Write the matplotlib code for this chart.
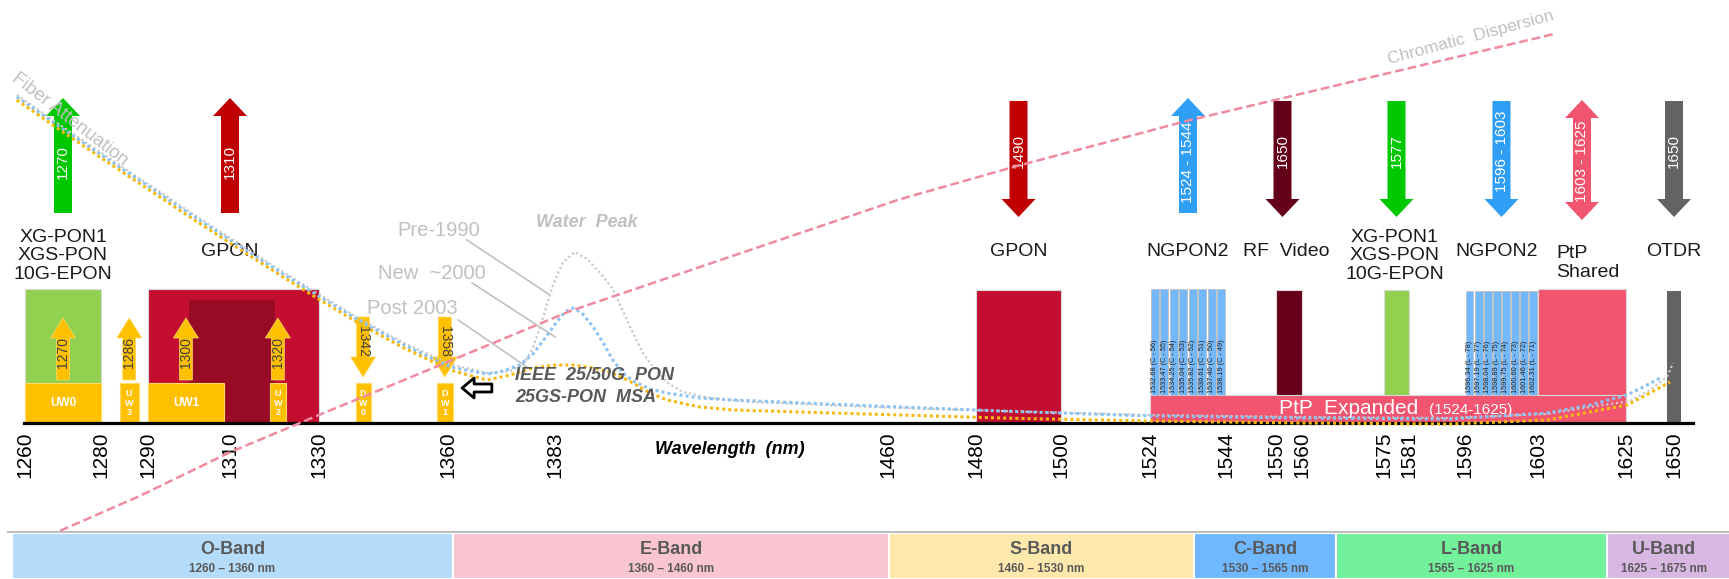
import numpy as np
import matplotlib
matplotlib.use("Agg")
import matplotlib.pyplot as plt
from matplotlib.patches import Rectangle

plt.rcParams['font.family'] = ['Liberation Sans', 'DejaVu Sans']
NARROW = ['Liberation Sans Narrow', 'Liberation Sans', 'DejaVu Sans']

# ---------------- data ----------------
tick_wl = [1260, 1280, 1290, 1310, 1330, 1360, 1383, 1460, 1480, 1500,
           1524, 1544, 1550, 1560, 1575, 1581, 1596, 1603, 1625, 1650]

# service blocks (nm)
xgpon_up = (1260, 1280)
gpon_up = (1290, 1330)
gpon_up_narrow = (1300, 1320)
gpon_down = (1480, 1500)
rf_video = (1550, 1560)
xgpon_down = (1575, 1581)
ptp_shared = (1603, 1625)
ptp_expanded = (1524, 1625)
otdr = (1646.5, 1653.5)
ngpon2_c_band = (1524, 1544)
ngpon2_l_band = (1596, 1603)

# 25GS-PON MSA / IEEE 25/50G wavelength windows
win_names = ['UW0', 'UW3', 'UW1', 'UW2', 'DW0', 'DW1']
win_start = [1260, 1284, 1290, 1319, 1338.5, 1357.5]
win_end = [1280, 1288, 1308.5, 1322.5, 1342, 1361]
win_label = ['1270', '1286', '1300', '1320', '1342', '1358']
win_up = [True, True, True, True, False, False]

ngpon2_c = ['1532.68 (C - 56)', '1533.47 (C - 55)', '1534.25 (C - 54)', '1535.04 (C - 53)',
            '1535.82 (C - 52)', '1536.61 (C - 51)', '1537.40 (C - 50)', '1538.19 (C - 49)']
ngpon2_l = ['1596.34 (L - 78)', '1597.19 (L - 77)', '1598.04 (L - 76)', '1598.89 (L - 75)',
            '1599.75 (L - 74)', '1600.60 (L - 73)', '1601.46 (L - 72)', '1602.31 (L - 71)']

# big direction arrows
arrow_wl = [1270, 1310, 1490, 1534, 1552.5, 1578, 1599.5, 1614, 1650]
arrow_txt = ['1270', '1310', '1490', '1524 - 1544', '1650', '1577', '1596 - 1603', '1603 - 1625', '1650']
arrow_dir = ['up', 'up', 'down', 'up', 'down', 'down', 'down', 'both', 'down']
arrow_col = ['#00C800', '#C00000', '#C00000', '#2F9EF5', '#640019', '#00C800', '#2F9EF5', '#F0546E', '#636363']

# service names
svc_wl = [1270, 1310, 1490, 1534, 1554, 1577.5, 1599, 1607.5, 1650]
svc_txt = ['XG-PON1\nXGS-PON\n10G-EPON', 'GPON', 'GPON', 'NGPON2', 'RF  Video',
           'XG-PON1\nXGS-PON\n10G-EPON', 'NGPON2', 'PtP\nShared', 'OTDR']

# ITU bands
band_names = ['O-Band', 'E-Band', 'S-Band', 'C-Band', 'L-Band', 'U-Band']
band_lo = [1260, 1360, 1460, 1530, 1565, 1625]
band_hi = [1360, 1460, 1530, 1565, 1625, 1675]
band_col = ['#B5DDFB', '#F9C5D0', '#FEE8AC', '#6FB7FE', '#72F09A', '#D8B8E3']

# fiber attenuation (relative units) vs wavelength
att_wl_post = [1261.1, 1271.0, 1280.1, 1291.1, 1300.7, 1310.6, 1321.3, 1330.5, 1339.6, 1349.7,
               1360.2, 1368.7, 1374.0, 1379.2, 1384.3, 1388.4, 1393.0, 1397.5, 1402.1, 1406.0,
               1409.9, 1417.4, 1425.0, 1463.2, 1486.1, 1520.4, 1554.7, 1589.1, 1611.3, 1621.1,
               1629.6, 1634.8, 1639.4]
att_post = [3.23, 2.93, 2.66, 2.34, 2.06, 1.78, 1.48, 1.23, 0.99, 0.75,
            0.53, 0.43, 0.48, 0.55, 0.58, 0.58, 0.55, 0.50, 0.40, 0.30,
            0.23, 0.16, 0.13, 0.08, 0.05, 0.02, 0.00, -0.01, 0.03, 0.11,
            0.18, 0.30, 0.41]
att_wl_new = [1261.1, 1271.0, 1280.1, 1291.1, 1300.7, 1310.6, 1321.3, 1330.5, 1339.6, 1349.7,
              1360.2, 1368.7, 1371.7, 1376.2, 1379.2, 1382.0, 1384.3, 1386.5, 1388.4, 1390.4,
              1393.0, 1395.3, 1397.5, 1399.8, 1402.1, 1406.0, 1409.9, 1417.4, 1425.0, 1463.2,
              1486.1, 1520.4, 1554.7, 1589.1, 1611.3, 1621.1, 1629.6, 1633.3, 1637.6]
att_new = [3.26, 2.96, 2.69, 2.37, 2.09, 1.81, 1.51, 1.26, 1.02, 0.78,
           0.56, 0.49, 0.51, 0.58, 0.69, 0.85, 0.99, 1.11, 1.15, 1.10,
           0.96, 0.80, 0.63, 0.50, 0.42, 0.34, 0.30, 0.25, 0.23, 0.16,
           0.12, 0.07, 0.05, 0.04, 0.10, 0.18, 0.28, 0.36, 0.46]
att_wl_pre = [1261.1, 1271.0, 1280.1, 1291.1, 1300.7, 1310.6, 1321.3, 1330.5, 1339.6, 1349.7,
              1360.2, 1368.7, 1374.0, 1376.9, 1379.2, 1381.5, 1383.8, 1386.1, 1388.8, 1391.6,
              1394.6, 1397.5, 1399.8, 1402.1, 1404.4, 1406.7, 1410.1, 1413.5, 1419.7, 1428.9,
              1463.2, 1486.1, 1520.4, 1554.7, 1589.1, 1611.3, 1621.1, 1630.3, 1634.8, 1638.7,
              1640.1]
att_pre = [3.28, 2.98, 2.71, 2.39, 2.11, 1.83, 1.53, 1.28, 1.04, 0.80,
           0.59, 0.50, 0.52, 0.58, 0.75, 1.05, 1.38, 1.61, 1.71, 1.64,
           1.50, 1.34, 1.12, 0.90, 0.70, 0.56, 0.40, 0.31, 0.25, 0.21,
           0.15, 0.12, 0.08, 0.06, 0.05, 0.09, 0.16, 0.22, 0.33, 0.46,
           0.60]

# chromatic dispersion (ps/nm/km)
disp_wl = [1271, 1289, 1310, 1331, 1349, 1388, 1463, 1489, 1529, 1568, 1613]
disp = [-3.9, -2.2, 0.0, 1.9, 3.5, 7.0, 12.5, 14.1, 16.4, 18.4, 20.7]

# ---------------- layout ----------------
W, H = 1729, 579
BASE = 423                      # baseline, px from top
tick_px = [25, 101, 148, 230, 319, 448, 555, 888, 976, 1061,
           1150, 1226, 1276, 1302, 1384, 1409, 1465, 1538, 1626, 1674]
band_px = [12, 453, 889, 1194, 1336, 1607, 1827]


def piecewise(wl_pts, px_pts):
    wl_pts = np.asarray(wl_pts, float)
    px_pts = np.asarray(px_pts, float)
    # extend both ends linearly
    s0 = (px_pts[1] - px_pts[0]) / (wl_pts[1] - wl_pts[0])
    s1 = (px_pts[-1] - px_pts[-2]) / (wl_pts[-1] - wl_pts[-2])
    wl_e = np.concatenate([[wl_pts[0] - 500], wl_pts, [wl_pts[-1] + 500]])
    px_e = np.concatenate([[px_pts[0] - 500 * s0], px_pts, [px_pts[-1] + 500 * s1]])
    fwd = lambda v: np.interp(v, wl_e, px_e)
    inv = lambda p: np.interp(p, px_e, wl_e)
    return fwd, inv


fig = plt.figure(figsize=(W / 100, H / 100), dpi=100)

# ---- main channel-plan axes (nonlinear wavelength axis) ----
fwd, inv = piecewise(tick_wl, tick_px)
ax = fig.add_axes([0, (H - BASE) / H, 1, BASE / H])
ax.set_xscale('function', functions=(fwd, inv))
ax.set_xlim(inv(0), inv(W))
ax.set_ylim(0, BASE)
ax.set_facecolor('none')
for s in ['top', 'left', 'right']:
    ax.spines[s].set_visible(False)
ax.spines['bottom'].set_linewidth(2.3)
ax.spines['bottom'].set_bounds(inv(24), inv(1693))
ax.set_yticks([])
ax.set_xticks(tick_wl)
ax.set_xticklabels([str(t) for t in tick_wl], rotation=90, fontsize=15)
ax.tick_params(axis='x', length=0, pad=6)
ax.xaxis.set_minor_locator(matplotlib.ticker.NullLocator())


def box(lo, hi, y0, y1, color, ec='#D9D9D9', lw=0.8, z=1):
    ax.add_patch(Rectangle((lo, y0), hi - lo, y1 - y0, fc=color, ec=ec, lw=lw, zorder=z))


def block_arrow(x, y_from, y_to, color, tail=18, head_w=34, head_l=18, ec='none', lw=0, z=3):
    ax.annotate('', xy=(x, y_to), xytext=(x, y_from), zorder=z, annotation_clip=False,
                arrowprops=dict(arrowstyle=f'simple,head_length={head_l},head_width={head_w},tail_width={tail}',
                                fc=color, ec=ec, lw=lw, shrinkA=0, shrinkB=0, mutation_scale=0.72))


box(*xgpon_up, 0, 134, '#92D050')
box(*gpon_up, 0, 134, '#C40E31')
box(*gpon_up_narrow, 0, 123, '#970C24', ec='none')
box(*gpon_down, 0, 133, '#C40E31')
box(*ptp_expanded, 1, 28, '#F35470')
box(*ptp_shared, 28, 134, '#F35470')
box(*rf_video, 28, 133, '#66001A')
box(*xgpon_down, 28, 133, '#92D050')
box(*otdr, 0, 132, '#636363', ec='none')

# NGPON2 channel bars
for (lo, hi), names, top in [(ngpon2_c_band, ngpon2_c, 134), (ngpon2_l_band, ngpon2_l, 132)]:
    edges = np.linspace(lo, hi, len(names) + 1)
    slot = edges[1] - edges[0]
    for e, nm in zip(edges[:-1], names):
        box(e + 0.06 * slot, e + 0.92 * slot, 28, top, '#74B8FC', ec='#BFBFBF', lw=0.6)
        ax.text(e + 0.49 * slot, 30, nm, rotation=90, ha='center', va='bottom',
                fontsize=5.3, color='#222222', family=NARROW)

ax.text(1568.5, 14, 'PtP  Expanded', ha='center', va='center', color='white', fontsize=15, zorder=4)
ax.text(1596.5, 13, '(1524-1625)', ha='center', va='center', color='white', fontsize=11,
        family=NARROW, zorder=4)

# 25G / 50G windows and small arrows
for name, lo, hi, lab, up in zip(win_names, win_start, win_end, win_label, win_up):
    box(lo, hi, 0, 40, '#FFC000', ec='#FFD966', lw=0.8, z=2)
    c = (lo + hi) / 2
    if hi - lo > 8:
        ax.text(c, 20, name, ha='center', va='center', color='white', fontsize=8.5,
                fontweight='bold', zorder=4)
    else:
        ax.text(c, 20, '\n'.join(name), ha='center', va='center', color='white', fontsize=6.5,
                fontweight='bold', linespacing=1.05, zorder=4)
    if up:
        block_arrow(c, 43, 105, '#FFC000', tail=13, head_w=25, head_l=20, ec='#FFD966', lw=0.5)
        ax.text(c, 70, lab, rotation=90, ha='center', va='center', fontsize=10, color='#404040', zorder=4)
    else:
        block_arrow(c, 106, 46, '#FFC000', tail=13, head_w=25, head_l=20, ec='#FFD966', lw=0.5)
        ax.text(c, 82, lab, rotation=270, ha='center', va='center', fontsize=10, color='#404040', zorder=4)

# big arrows
for x, t, d, col in zip(arrow_wl, arrow_txt, arrow_dir, arrow_col):
    if d == 'up':
        block_arrow(x, 210, 325, col)
        ym = 261
    elif d == 'down':
        block_arrow(x, 322, 206, col)
        ym = 272
    else:
        block_arrow(x, 263, 323, col)
        block_arrow(x, 263, 203, col)
        ym = 262
    ax.text(x, ym, t, rotation=90, ha='center', va='center', color='white', fontsize=11, zorder=5)

# service labels
for x, t in zip(svc_wl, svc_txt):
    n = t.count('\n')
    if t.startswith('PtP'):
        ax.text(x, 160, t, ha='left', va='center', fontsize=14, family=NARROW,
                linespacing=1.15, color='#1A1A1A')
    elif n == 2:
        ax.text(x, 167, t, ha='center', va='center', fontsize=14, family=NARROW,
                linespacing=1.12, color='#1A1A1A')
    else:
        ax.text(x, 172, t, ha='center', va='center', fontsize=14, family=NARROW, color='#1A1A1A')

# ---- ITU band bar ----
bfwd, binv = piecewise(band_lo + [band_hi[-1]], band_px)
bax = fig.add_axes([0, 0, 1, 48 / H])
bax.set_xscale('function', functions=(bfwd, binv))
bax.set_xlim(binv(0), binv(W))
bax.set_ylim(0, 48)
bax.axis('off')
bax.plot([binv(8), binv(W)], [47.3, 47.3], color='#BFBFBF', lw=1.5, clip_on=False)
for nm, lo, hi, col in zip(band_names, band_lo, band_hi, band_col):
    bax.add_patch(Rectangle((lo, 0), hi - lo, 46, fc=col, ec='white', lw=1.5))
    c = (lo + hi) / 2 if nm != 'U-Band' else 1638
    bax.text(c, 29, nm, ha='center', va='center', fontsize=13, fontweight='bold',
             color='#595959', family=NARROW)
    bax.text(c, 10, f'{lo} \u2013 {hi} nm', ha='center', va='center', fontsize=8.5,
             fontweight='bold', color='#595959', family=NARROW)

# ---- fiber attenuation / dispersion overlay (linear wavelength) ----
axc = fig.add_axes([0, 0, 1, 1])
axc.set_xlim(1260 - 12 / 4.37, 1260 + (W - 12) / 4.37)
axc.set_ylim(-(H - BASE) / 100, BASE / 100)
axc.axis('off')
axc.plot(att_wl_pre, att_pre, color='#C8C8C8', lw=1.6, ls=(0, (1, 1.2)), zorder=3)
axc.plot(att_wl_new, att_new, color='#8DC3F2', lw=2.2, ls=(0, (1, 1)), zorder=3)
axc.plot(att_wl_post, att_post, color='#F5BA12', lw=2.2, ls=(0, (1, 1)), zorder=3)

axd = axc.twinx()
axd.set_ylim((BASE + 29 - H) / 20.2, (BASE + 29) / 20.2)
axd.axis('off')
axd.plot(disp_wl, disp, color='#F08A9E', lw=1.8, ls=(0, (3.5, 1.6)))

gray = '#C0C0C0'
axc.text(1273.3, 3.04, 'Fiber Attenuation', rotation=-37.5, ha='center', va='center',
         fontsize=13.5, color=gray, rotation_mode='anchor')
axc.text(1593.9, 3.85, 'Chromatic  Dispersion', rotation=15, ha='center', va='center',
         fontsize=12.5, color=gray, rotation_mode='anchor')
axc.text(1391.5, 2.01, 'Water  Peak', ha='center', va='center', fontsize=13,
         fontweight='bold', fontstyle='italic', color=gray)
for t, x, y, l0, l1 in [('Pre-1990', 1348.1, 1.93, (1364.1, 1.83), (1383.1, 1.28)),
                        ('New  ~2000', 1343.8, 1.50, (1365.3, 1.40), (1384.3, 0.86)),
                        ('Post 2003', 1341.2, 1.15, (1362.1, 1.03), (1377.8, 0.56))]:
    axc.text(x, y, t, ha='left', va='center', fontsize=14.5, color=gray)
    axc.plot([l0[0], l1[0]], [l0[1], l1[1]], color=gray, lw=1.2)

axc.text(1375.1, 0.48, 'IEEE  25/50G  PON', ha='left', va='center', fontsize=13,
         fontweight='bold', fontstyle='italic', color='#595959', zorder=6)
axc.text(1375.1, 0.25, '25GS-PON  MSA', ha='left', va='center', fontsize=13,
         fontweight='bold', fontstyle='italic', color='#595959', zorder=6)
axc.annotate('', xy=(1363.0, 0.35), xytext=(1369.8, 0.35), zorder=6,
             arrowprops=dict(arrowstyle='simple,head_length=12,head_width=20,tail_width=8',
                             fc='white', ec='black', lw=2, shrinkA=0, shrinkB=0, mutation_scale=0.72))
axc.text(1424.3, -0.27, 'Wavelength  (nm)', ha='center', va='center', fontsize=13,
         fontweight='bold', fontstyle='italic', color='black')

fig.savefig('out.png', dpi=100)
